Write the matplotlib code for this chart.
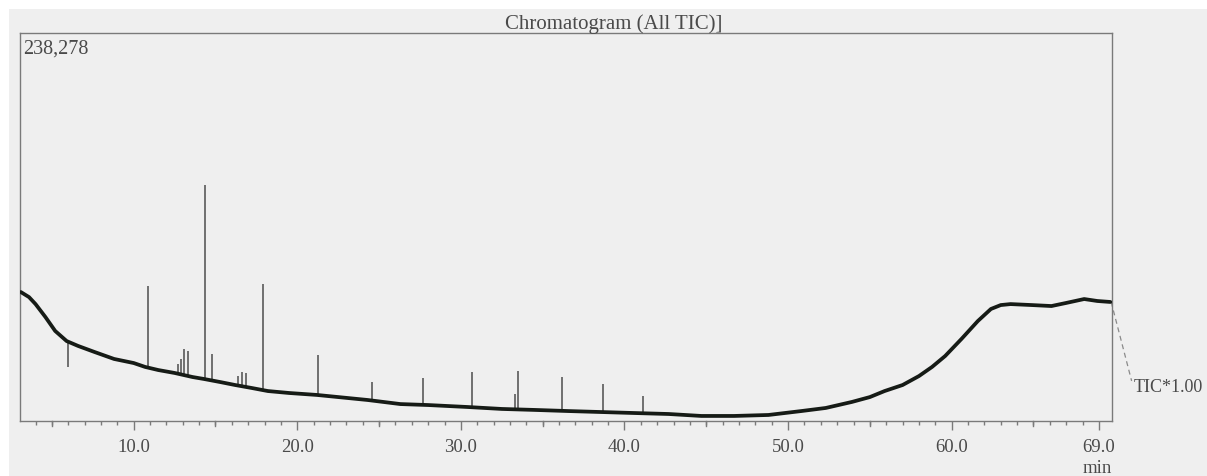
import matplotlib
matplotlib.use("Agg")
import matplotlib.pyplot as plt
import matplotlib.transforms as mtransforms
from matplotlib.patches import Rectangle

# baseline of the TIC trace (time in min, intensity in counts)
base_time = [3.1, 3.6, 4.0, 4.6, 5.2, 5.9, 6.6, 7.6, 8.8, 10.0, 10.7, 11.5, 12.5,
             13.6, 14.3, 15.3, 16.2, 17.2, 18.2, 19.5, 21.2, 22.5, 24.3, 26.3,
             28.0, 30.4, 32.5, 34.5, 36.6, 38.6, 40.6, 42.7, 44.7, 46.7, 48.8,
             50.8, 52.3, 53.9, 55.0, 55.9, 57.0, 58.0, 58.8, 59.6, 60.6, 61.6,
             62.4, 63.0, 63.6, 64.9, 66.1, 67.0, 68.1, 68.9, 69.7]
base_int = [79200, 76100, 71800, 63900, 55300, 49100, 46100, 42400, 38100, 35600,
            33200, 31300, 29500, 27000, 25800, 23900, 22100, 20300, 18400, 17200,
            16000, 14700, 12900, 10400, 9800, 8600, 7400, 6800, 6100, 5500, 4900,
            4300, 3100, 3100, 3700, 6100, 8000, 11700, 14700, 18400, 22100, 27600,
            33200, 39900, 50400, 61400, 68800, 71200, 71800, 71200, 70600, 72500,
            74900, 73700, 73100]

# peaks: retention time, apex intensity, intensity at foot
peak_time = [5.97, 10.85, 12.69, 12.87, 13.05, 13.30, 14.33, 14.76, 16.35, 16.59,
             16.84, 17.88, 21.29, 24.59, 27.70, 30.70, 33.32, 33.50, 36.19, 38.69,
             41.13]
peak_top = [33200, 82900, 35000, 38100, 44200, 43000, 144900, 41100, 27600, 30100,
            29500, 84100, 40500, 23900, 26400, 30100, 16600, 30700, 27000, 22700,
            15400]
peak_foot = [49100, 33800, 29500, 29500, 28500, 27800, 25800, 24800, 22100, 21500,
             21000, 19000, 16000, 12600, 10000, 8500, 7100, 7000, 6200, 5500, 4800]

y_max = 238278
major_ticks = [10, 20, 30, 40, 50, 60, 69]
major_labels = ["10.0", "20.0", "30.0", "40.0", "50.0", "60.0", "69.0"]

bg = "#efefef"
txt = "#4a4a4a"
serif = "Liberation Serif"

fig = plt.figure(figsize=(12.07, 4.77), dpi=100, facecolor=bg)
# white scan margins at top and left
fig.patches.append(Rectangle((0, 1 - 10 / 477), 1, 10 / 477, transform=fig.transFigure,
                             facecolor="white", edgecolor="none", zorder=-1))
fig.patches.append(Rectangle((0, 0), 9 / 1207, 1, transform=fig.transFigure,
                             facecolor="white", edgecolor="none", zorder=-1))

ax = fig.add_axes([20 / 1207, 1 - 422 / 477, 1092 / 1207, 388 / 477])
ax.set_facecolor(bg)
ax.set_xlim(3.05, 69.8)
ax.set_ylim(0, y_max)

ax.vlines(peak_time, peak_foot, peak_top, color="#5a5a5a", lw=1.2, zorder=2)
ax.plot(base_time, base_int, color="#161b16", lw=2.7, zorder=3,
        solid_joinstyle="round", solid_capstyle="round")

# trailing dashed link to the TIC label
ax.plot([69.75, 71.0], [73100, 24600], color="#8a8a8a", lw=0.9, ls=(0, (4, 3)),
        clip_on=False)
ax.text(71.15, 20900, "TIC*1.00", fontsize=13, family=serif, color=txt,
        ha="left", va="center", clip_on=False)

for s in ax.spines.values():
    s.set_color("#7a7a7a")
    s.set_linewidth(1.0)

ax.set_yticks([])
ax.set_xticks(major_ticks)
ax.set_xticklabels(major_labels, fontsize=13.5, family=serif, color=txt)
ax.set_xticks(range(4, 70), minor=True)
ax.tick_params(axis="x", which="major", direction="out", length=6.5, width=1,
               color="#7a7a7a", pad=6)
ax.tick_params(axis="x", which="minor", direction="out", length=3, width=1,
               color="#7a7a7a")

# medium ticks every 5 min
trans = mtransforms.blended_transform_factory(ax.transData, ax.transAxes)
for t in [5, 15, 25, 35, 45, 55, 65]:
    ax.plot([t, t], [0, -0.013], transform=trans, color="#7a7a7a", lw=1,
            clip_on=False)

ax.text(0.003, 0.985, "238,278", transform=ax.transAxes, fontsize=14.5,
        family=serif, color=txt, ha="left", va="top")

fig.text(614 / 1207, 1 - 24 / 477, "Chromatogram (All TIC)]", fontsize=15,
         family=serif, color=txt, ha="center", va="center")
fig.text(1097 / 1207, 1 - 469 / 477, "min", fontsize=13.5, family=serif,
         color=txt, ha="center", va="center")

fig.savefig("out.png", dpi=100, facecolor=bg)
